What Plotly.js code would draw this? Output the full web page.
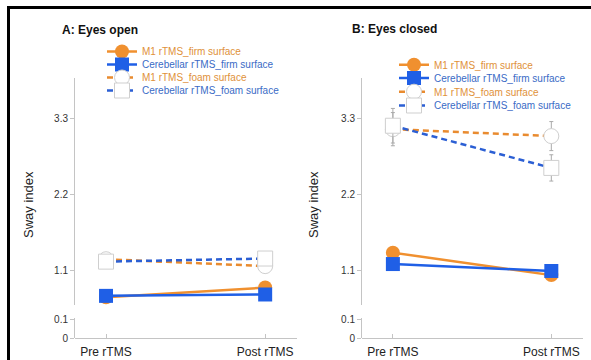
<!DOCTYPE html>
<html><head><meta charset="utf-8">
<script src="https://cdn.plot.ly/plotly-3.0.1.min.js"></script>
<style>html,body{margin:0;padding:0;background:#fff;}#chart{width:591px;height:360px;}</style>
</head><body><div id="chart"></div>
<script>
const conditions = ["Pre rTMS", "Post rTMS"];
const conditionPos = [0, 1];
const seriesNames = ["M1 rTMS_firm surface", "Cerebellar rTMS_firm surface", "M1 rTMS_foam surface", "Cerebellar rTMS_foam surface"];
// Panel A: Eyes open
const openM1Firm = [0.72, 0.86];
const openCbFirm = [0.74, 0.76];
const openM1Foam = [1.27, 1.17];
const openCbFoam = [1.235, 1.28];
const openM1FoamErr = [0.05, 0.05];
const openCbFoamErr = [0.05, 0.05];
// Panel B: Eyes closed
const closedM1Firm = [1.365, 1.04];
const closedCbFirm = [1.20, 1.10];
const closedM1Foam = [3.15, 3.05];
const closedCbFoam = [3.20, 2.59];
const closedM1FoamErr = [0.24, 0.21];
const closedCbFoamErr = [0.25, 0.19];
const upperTicks = [1.1, 2.2, 3.3];
const lowerTicks = [0, 0.1];

const ORANGE = '#F0902F', BLUE = '#1F5FE6';
const ORANGE_D = '#E98B2F', BLUE_D = '#2B5FD4';
const TXT_OR = '#E0913A', TXT_BL = '#3A6BC6';

function lbl(name, col){ return '<span style="color:' + col + '">' + name + '</span>'; }

function panelTraces(xa, ya, ya2, legs, m1f, cbf, m1o, cbo, m1e, cbe){
  return [
    {x: conditionPos, y: m1f, xaxis: xa, yaxis: ya, legend: legs[0], name: lbl(seriesNames[0], TXT_OR), mode: 'lines+markers',
     line: {color: ORANGE, width: 2.5}, marker: {symbol: 'circle', size: 14, color: ORANGE}},
    {x: conditionPos, y: cbf, xaxis: xa, yaxis: ya, legend: legs[1], name: lbl(seriesNames[1], TXT_BL), mode: 'lines+markers',
     line: {color: BLUE, width: 2.5}, marker: {symbol: 'square', size: 14, color: BLUE}},
    {x: conditionPos, y: m1o, xaxis: xa, yaxis: ya, legend: legs[2], name: lbl(seriesNames[2], TXT_OR), mode: 'lines+markers',
     line: {color: ORANGE_D, width: 2.5, dash: '6px,4px'}, marker: {symbol: 'circle', size: 15, color: '#fff', line: {color: '#cfcfcf', width: 1}},
     error_y: {type: 'data', array: m1e, color: '#aaaaaa', thickness: 1, width: 2}},
    {x: conditionPos, y: cbo, xaxis: xa, yaxis: ya, legend: legs[3], name: lbl(seriesNames[3], TXT_BL), mode: 'lines+markers',
     line: {color: BLUE_D, width: 2.5, dash: '6px,4px'}, marker: {symbol: 'square', size: 15, color: '#fff', line: {color: '#cfcfcf', width: 1}},
     error_y: {type: 'data', array: cbe, color: '#aaaaaa', thickness: 1, width: 2}},
    // empty trace so the lower (broken) axis segment gets its subplot
    {x: [], y: [], xaxis: xa, yaxis: ya2, showlegend: false, hoverinfo: 'skip', mode: 'markers'}
  ];
}

const data = [].concat(
  panelTraces('x', 'y', 'y2', ['legend', 'legend2', 'legend3', 'legend4'], openM1Firm, openCbFirm, openM1Foam, openCbFoam, openM1FoamErr, openCbFoamErr),
  panelTraces('x2', 'y3', 'y4', ['legend5', 'legend6', 'legend7', 'legend8'], closedM1Firm, closedCbFirm, closedM1Foam, closedCbFoam, closedM1FoamErr, closedCbFoamErr)
);

const FONT = 'Liberation Sans, Arial, sans-serif';
const H = 360, W = 591;
const upDom = [1 - 305/H, 1 - 78/H];
const loDom = [1 - 338/H, 1 - 318/H];
const xDomA = [75/W, 297/W];
const xDomB = [362/W, 583/W];
const axisCol = '#c4c4c4';

function xAx(dom, pos){
  return {domain: dom, range: [-0.195, 1.2], anchor: 'free', position: pos, showgrid: false, zeroline: false,
    showline: true, linecolor: axisCol, linewidth: 1, ticks: 'inside', ticklen: 4, tickcolor: axisCol, ticklabelstandoff: 3,
    tickvals: conditionPos, ticktext: conditions, tickfont: {family: FONT, size: 12, color: '#222'}, automargin: false, fixedrange: true};
}
function yUp(anchor){
  return {domain: upDom, range: [0.608, 3.89], anchor: anchor, showgrid: false, zeroline: false, showline: true,
    linecolor: axisCol, linewidth: 1, ticks: 'outside', ticklen: 4, tickcolor: axisCol,
    tickvals: upperTicks, ticktext: upperTicks.map(String), tickfont: {family: FONT, size: 10, color: '#333'}, automargin: false};
}
function yLo(anchor){
  return {domain: loDom, range: [0, 0.111], anchor: anchor, showgrid: false, zeroline: false, showline: true,
    linecolor: axisCol, linewidth: 1, ticks: 'outside', ticklen: 4, tickcolor: axisCol,
    tickvals: lowerTicks, ticktext: lowerTicks.map(String), tickfont: {family: FONT, size: 10, color: '#333'}, automargin: false};
}

const legFont = {family: 'Liberation Sans Narrow, Arial Narrow, ' + FONT, size: 10};
function leg(xpx, ypx){
  return {x: xpx/W, y: 1 - ypx/H, xanchor: 'left', yanchor: 'middle', bgcolor: 'rgba(0,0,0,0)', font: legFont,
    tracegroupgap: 0, itemwidth: 30, borderwidth: 0};
}
const layout = {
  width: W, height: H, margin: {l: 0, r: 0, t: 0, b: 0}, paper_bgcolor: '#fff', plot_bgcolor: 'rgba(0,0,0,0)',
  showlegend: true,
  xaxis: xAx(xDomA, 1 - 338/H),
  xaxis2: xAx(xDomB, 1 - 338/H),
  yaxis: yUp('x'),
  yaxis2: yLo('x'),
  yaxis3: yUp('x2'),
  yaxis4: yLo('x2'),
  legend: leg(102, 51.5), legend2: leg(102, 64.5), legend3: leg(102, 77.5), legend4: leg(102, 90.5),
  legend5: leg(394, 64.7), legend6: leg(394, 78), legend7: leg(394, 91.7), legend8: leg(394, 105.5),
  annotations: [
    {text: '<b>A: Eyes open</b>', xref: 'paper', yref: 'paper', x: 60/W, y: 1 - 30/H, xanchor: 'left', yanchor: 'middle', showarrow: false, font: {family: FONT, size: 12, color: '#111'}},
    {text: '<b>B: Eyes closed</b>', xref: 'paper', yref: 'paper', x: 350/W, y: 1 - 29/H, xanchor: 'left', yanchor: 'middle', showarrow: false, font: {family: FONT, size: 12, color: '#111'}},
    {text: 'Sway index', xref: 'paper', yref: 'paper', x: 28/W, y: 1 - 205/H, xanchor: 'center', yanchor: 'middle', textangle: -90, showarrow: false, font: {family: FONT, size: 13, color: '#222'}},
    {text: 'Sway index', xref: 'paper', yref: 'paper', x: 313/W, y: 1 - 205/H, xanchor: 'center', yanchor: 'middle', textangle: -90, showarrow: false, font: {family: FONT, size: 13, color: '#222'}}
  ],
  shapes: [
    {type: 'line', xref: 'paper', yref: 'paper', x0: 7/W, x1: 1, y0: 1 - 7.5/H, y1: 1 - 7.5/H, line: {color: '#000', width: 3}},
    {type: 'line', xref: 'paper', yref: 'paper', x0: 8.5/W, x1: 8.5/W, y0: 1 - 6/H, y1: 0, line: {color: '#000', width: 3}}
  ]
};

Plotly.newPlot('chart', data, layout, {staticPlot: true, displayModeBar: false});
</script>
</body></html>
